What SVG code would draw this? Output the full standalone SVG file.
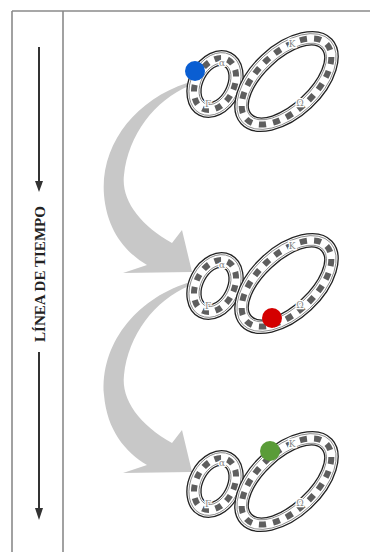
<svg xmlns="http://www.w3.org/2000/svg" width="370" height="552" viewBox="0 0 370 552">
<style>
.frame{stroke:#8a8a8a;stroke-width:1.6;fill:none}
.tl{stroke:#333;stroke-width:2;fill:none}
.tlh{fill:#333}
.flow{fill:#c8c8c8}
.band{fill:#fff;stroke:#222;stroke-width:1.3}
.edge{fill:none;stroke:#222;stroke-width:1.3}
.l2{fill:none;stroke:#666;stroke-width:0.7}
.marks{fill:none;stroke:#5e5e5e;stroke-width:6;stroke-dasharray:0.5 0.5}
.gk{font-family:"DejaVu Serif","Liberation Serif",serif;font-size:9px;fill:#888;text-anchor:middle;stroke:#fff;stroke-width:2.5;paint-order:stroke}
.title{font-family:"Liberation Serif",serif;font-weight:bold;font-size:14px;fill:#222;text-anchor:middle}
</style>
<defs>
<g id="knot">
<g transform="rotate(-63 215 84)">
<ellipse cx="215" cy="84" rx="35" ry="26" class="band"/>
<ellipse cx="215" cy="84" rx="33" ry="24" class="l2"/>
<ellipse cx="215" cy="84" rx="27.5" ry="19" class="marks" pathLength="11"/>
<ellipse cx="215" cy="84" rx="22" ry="14" class="l2"/>
<ellipse cx="215" cy="84" rx="20" ry="12" class="edge"/>
</g>
<g transform="rotate(-43 286.5 81.5)">
<ellipse cx="286.5" cy="81.5" rx="62" ry="36" class="band"/>
<ellipse cx="286.5" cy="81.5" rx="60" ry="34" class="l2"/>
<ellipse cx="286.5" cy="81.5" rx="55" ry="29" class="marks" pathLength="19"/>
<ellipse cx="286.5" cy="81.5" rx="50" ry="24" class="l2"/>
<ellipse cx="286.5" cy="81.5" rx="48" ry="22" class="edge"/>
</g>
<text class="gk" x="222" y="66">α</text>
<text class="gk" x="208" y="107">Γ</text>
<text class="gk" x="292" y="47">Κ</text>
<text class="gk" x="300" y="106">Ω</text>
</g>
</defs>
<g id="frame">
<line class="frame" x1="12" y1="11" x2="370" y2="11"/>
<line class="frame" x1="12" y1="11" x2="12" y2="552"/>
<line class="frame" x1="63" y1="11" x2="63" y2="552"/>
</g>
<g id="timeline">
<line class="tl" x1="39" y1="47" x2="39" y2="183"/>
<polygon class="tlh" points="35,181 43,181 39,192"/>
<text class="title" x="45" y="274" transform="rotate(-90 45 274)" textLength="136" lengthAdjust="spacingAndGlyphs">LÍNEA DE TIEMPO</text>
<line class="tl" x1="39" y1="352" x2="39" y2="510"/>
<polygon class="tlh" points="35,508 43,508 39,520"/>
</g>
<g id="connectors">
<path id="flow1" class="flow" d="M187,83 C135,100 100,145 104,195 C107,230 125,252 147,265 L123,273 L192,272 L182,230 L172,243 C140,225 121,200 124,175 C128,135 155,100 189,86 Z"/>
<path id="flow2" class="flow" transform="translate(0,200)" d="M187,83 C135,100 100,145 104,195 C107,230 125,252 147,265 L123,273 L192,272 L182,230 L172,243 C140,225 121,200 124,175 C128,135 155,100 189,86 Z"/>
</g>
<g id="state1">
<use href="#knot"/>
<circle cx="195" cy="71" r="10" fill="#0a5ed2"/>
</g>
<g id="state2">
<use href="#knot" transform="translate(0,202)"/>
<circle cx="272" cy="318" r="10" fill="#d40000"/>
</g>
<g id="state3">
<use href="#knot" transform="translate(0,400)"/>
<circle cx="270" cy="451" r="10" fill="#5a9c38"/>
</g>
</svg>
